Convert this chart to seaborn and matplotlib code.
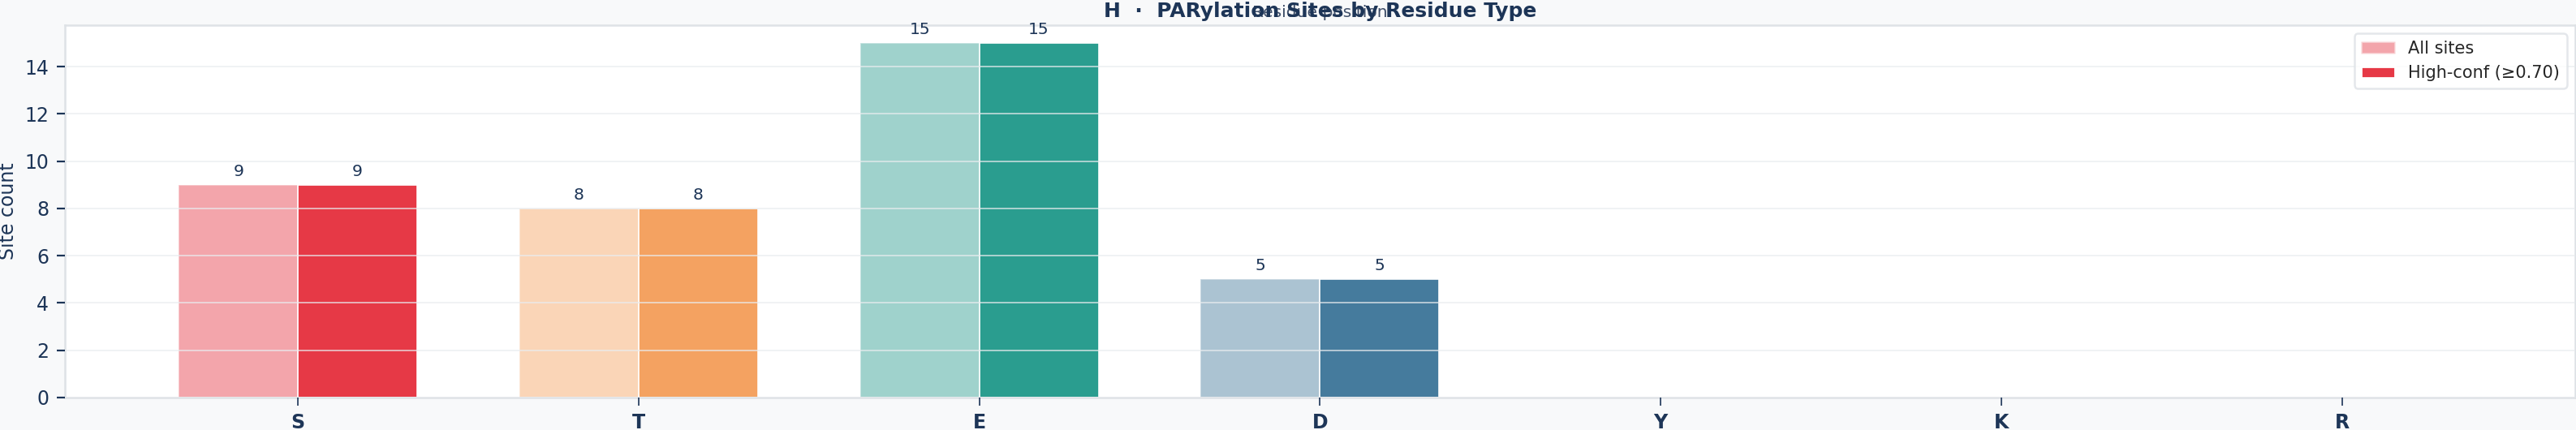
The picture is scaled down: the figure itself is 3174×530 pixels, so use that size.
import pandas as pd
import matplotlib
matplotlib.use("Agg")
import matplotlib.pyplot as plt
from matplotlib.patches import Patch
from matplotlib.ticker import MultipleLocator
import seaborn as sns

# data
residues = ['S', 'T', 'E', 'D', 'Y', 'K', 'R']
all_sites = [9, 8, 15, 5, 0, 0, 0]
high_conf = [9, 8, 15, 5, 0, 0, 0]
residue_colors = ['#E63946', '#F4A261', '#2A9D8F', '#457B9D', '#8338EC', '#6C757D', '#3A86FF']
series_names = ['All sites', 'High-conf (≥0.70)']

navy = '#1D3557'
frame = '#DEE2E6'

sns.set_style("white")
plt.rcParams['font.family'] = ['DejaVu Sans']

df = pd.DataFrame({
    'residue': residues * 2,
    'count': all_sites + high_conf,
    'series': [series_names[0]] * len(residues) + [series_names[1]] * len(residues),
})

fig, ax = plt.subplots(figsize=(15.87, 2.65), dpi=200)
fig.patch.set_facecolor('#F8F9FA')
ax.set_facecolor('white')
fig.subplots_adjust(left=0.0251, right=0.9997, bottom=0.0755, top=0.9415)

sns.barplot(data=df, x='residue', y='count', hue='series', order=residues,
            hue_order=series_names, width=0.7, gap=0, ax=ax, legend=False,
            edgecolor='white', linewidth=0.6, saturation=1)

# colour each bar by residue; the "all sites" bars are a faded version
for k, cont in enumerate(ax.containers):
    for bar, col in zip(cont, residue_colors):
        bar.set_facecolor(col)
        bar.set_edgecolor('white')
        bar.set_alpha(0.45 if k == 0 else 1.0)
    for bar, val in zip(cont, all_sites if k == 0 else high_conf):
        if val > 0:
            ax.annotate(f"{val}", (bar.get_x() + bar.get_width() / 2, bar.get_height()),
                        xytext=(0, 2.5), textcoords='offset points',
                        ha='center', va='bottom', fontsize=7.3, color=navy)

n = len(residues)
pad = 0.05 * (n - 1 + 0.7)
ax.set_xlim(-0.35 - pad, n - 1 + 0.35 + pad)
ax.set_ylim(0, max(all_sites + high_conf) * 1.05)
ax.yaxis.set_major_locator(MultipleLocator(2))

ax.grid(axis='y', color='#E9ECEF', linewidth=0.6, alpha=0.8)
ax.set_axisbelow(False)
for s in ax.spines.values():
    s.set_color(frame)
    s.set_linewidth(0.9)

ax.tick_params(axis='y', labelsize=8.5, colors=navy, length=3.5, width=0.8, left=True)
ax.tick_params(axis='x', labelsize=8.5, colors=navy, length=3.5, width=0.6, bottom=True)
for lab in ax.get_xticklabels():
    lab.set_fontweight('bold')

ax.set_ylabel('Site count', fontsize=8.5, color=navy, labelpad=3)
ax.xaxis.set_label_position('top')
ax.set_xlabel('Residue position', fontsize=7.3, color='#41506A', labelpad=3.5)
ax.set_title('H  ·  PARylation Sites by Residue Type', fontsize=9, fontweight='bold',
             color=navy, y=1.0, pad=3.5)

handles = [Patch(facecolor=residue_colors[0], alpha=0.45, edgecolor='white', label=series_names[0]),
           Patch(facecolor=residue_colors[0], edgecolor='white', label=series_names[1])]
leg = ax.legend(handles=handles, loc='upper right', fontsize=7.5, frameon=True)
leg.get_frame().set_edgecolor(frame)
leg.get_frame().set_linewidth(0.9)

fig.savefig('out.png', dpi=200, facecolor=fig.get_facecolor())
plt.close(fig)
